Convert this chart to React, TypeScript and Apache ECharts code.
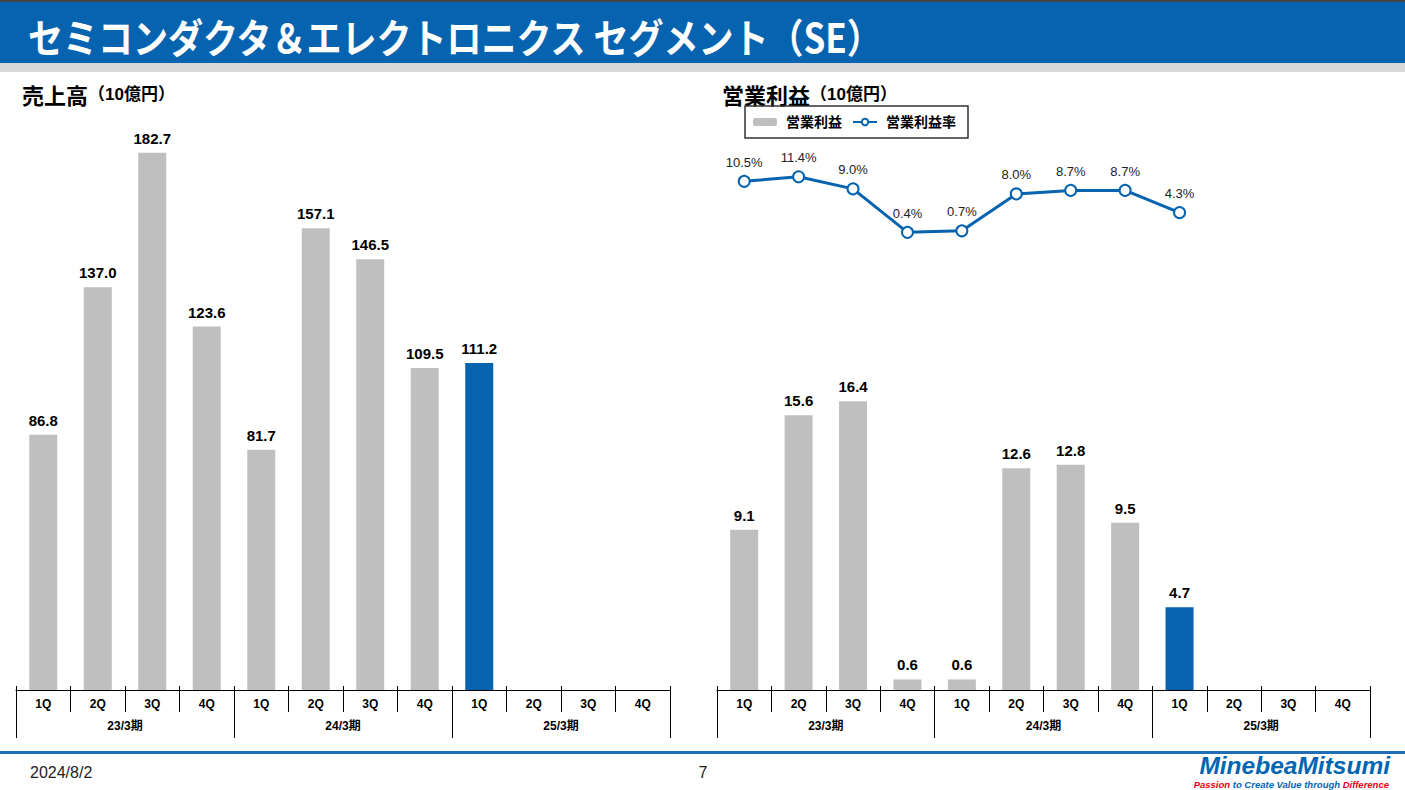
import React, { useEffect, useRef } from "react";
import * as echarts from "echarts";

const quarters = ["1Q", "2Q", "3Q", "4Q", "1Q", "2Q", "3Q", "4Q", "1Q", "2Q", "3Q", "4Q"];
const fiscalYears = ["23/3期", "24/3期", "25/3期"];
const salesValues: (number | null)[] = [86.8, 137.0, 182.7, 123.6, 81.7, 157.1, 146.5, 109.5, 111.2, null, null, null];
const profitValues: (number | null)[] = [9.1, 15.6, 16.4, 0.6, 0.6, 12.6, 12.8, 9.5, 4.7, null, null, null];
const marginValues: (number | null)[] = [10.5, 11.4, 9.0, 0.4, 0.7, 8.0, 8.7, 8.7, 4.3, null, null, null];
const highlightIndex = 8;

const FONT = "'Liberation Sans', Arial, 'Noto Sans CJK JP', sans-serif";
const CJK = "'Noto Sans CJK JP', sans-serif";
const BLUE = "#0563B0";
const GRAY = "#BFBFBF";

function barData(vals: (number | null)[]) {
  return vals.map((v, i) =>
    i === highlightIndex ? { value: v, itemStyle: { color: BLUE } } : v
  );
}

function xAxesFor(gridIndex: number) {
  return [
    {
      type: "category",
      gridIndex,
      data: quarters,
      position: "bottom",
      axisLine: { show: true, onZero: false, lineStyle: { color: "#000", width: 1 } },
      axisTick: { show: true, length: 22, interval: 0, lineStyle: { color: "#000" } },
      axisLabel: { interval: 0, margin: 8, color: "#000", fontWeight: "bold", fontSize: 12, fontFamily: FONT },
      splitLine: { show: false },
    },
    {
      type: "category",
      gridIndex,
      data: quarters,
      position: "bottom",
      axisLine: { show: false, onZero: false },
      axisTick: { show: true, inside: true, length: 4, interval: 0, lineStyle: { color: "#000" } },
      axisLabel: { show: false },
      splitLine: { show: false },
    },
    {
      type: "category",
      gridIndex,
      data: fiscalYears,
      position: "bottom",
      offset: 22,
      axisLine: { show: false, onZero: false },
      axisTick: { show: true, length: 26, interval: 0, lineStyle: { color: "#000" } },
      axisLabel: { interval: 0, margin: 8, color: "#000", fontWeight: "bold", fontSize: 12, fontFamily: FONT },
      splitLine: { show: false },
    },
  ];
}

const hiddenY = (gridIndex: number, min: number, max: number) => ({
  type: "value",
  gridIndex,
  min,
  max,
  show: false,
  splitLine: { show: false },
});

export default function App() {
  const ref = useRef<HTMLDivElement>(null);
  useEffect(() => {
    if (!ref.current) return;
    const chart = echarts.init(ref.current, null, { renderer: "svg" });
    const fmt1 = (p: any) => (p.value == null ? "" : Number(p.value).toFixed(1));
    const subRich = {
      a: { fontSize: 22, fontWeight: "bold", fill: "#000", fontFamily: CJK, verticalAlign: "middle", lineHeight: 26 },
      b: { fontSize: 17, fontWeight: "bold", fill: "#000", fontFamily: FONT, verticalAlign: "middle", lineHeight: 26 },
    };
    const tagStyle = (fill: string) => ({
      fontSize: 9.5,
      fontWeight: "bold",
      fontStyle: "italic",
      fill,
      fontFamily: FONT,
    });
    const option: any = {
      animation: false,
      textStyle: { fontFamily: FONT },
      grid: [
        { left: 16, width: 654, top: 102, height: 588 },
        { left: 717, width: 653, top: 102, height: 588 },
      ],
      xAxis: [...xAxesFor(0), ...xAxesFor(1)],
      yAxis: [hiddenY(0, 0, 200), hiddenY(1, 0, 33.4), hiddenY(1, -90.2, 26.2)],
      legend: {
        left: 745,
        top: 106,
        orient: "horizontal",
        data: ["営業利益", "営業利益率"],
        borderColor: "#333",
        borderWidth: 1.5,
        padding: [9, 12, 9, 8],
        itemWidth: 24,
        itemHeight: 8,
        itemGap: 10,
        selectedMode: false,
        textStyle: { fontSize: 14, fontWeight: "bold", color: "#000", fontFamily: FONT, padding: [0, 0, 0, 4] },
      },
      series: [
        {
          name: "売上高",
          type: "bar",
          xAxisIndex: 0,
          yAxisIndex: 0,
          barWidth: 28,
          itemStyle: { color: GRAY },
          data: barData(salesValues),
          label: {
            show: true,
            position: "top",
            distance: 7,
            formatter: fmt1,
            fontSize: 15,
            fontWeight: "bold",
            color: "#000",
            fontFamily: FONT,
          },
        },
        {
          name: "営業利益",
          type: "bar",
          xAxisIndex: 3,
          yAxisIndex: 1,
          barWidth: 28,
          itemStyle: { color: GRAY },
          data: barData(profitValues),
          label: {
            show: true,
            position: "top",
            distance: 7,
            formatter: fmt1,
            fontSize: 15,
            fontWeight: "bold",
            color: "#000",
            fontFamily: FONT,
          },
        },
        {
          name: "営業利益率",
          type: "line",
          xAxisIndex: 3,
          yAxisIndex: 2,
          data: marginValues,
          symbol: "emptyCircle",
          symbolSize: 11,
          lineStyle: { color: BLUE, width: 3 },
          itemStyle: { color: BLUE, borderColor: BLUE, borderWidth: 2.5 },
          label: {
            show: true,
            position: "top",
            distance: 6,
            formatter: (p: any) => (p.value == null ? "" : Number(p.value).toFixed(1) + "%"),
            fontSize: 13,
            color: "#222",
            fontFamily: FONT,
          },
        },
      ],
      graphic: [
        { type: "rect", shape: { x: 0, y: 0, width: 1405, height: 2 }, style: { fill: "#444" }, z: -1 },
        { type: "rect", shape: { x: 0, y: 2, width: 1405, height: 61 }, style: { fill: BLUE }, z: -1 },
        { type: "rect", shape: { x: 0, y: 63, width: 1405, height: 9 }, style: { fill: "#D9D9D9" }, z: -1 },
        {
          type: "text",
          x: 28,
          y: 35,
          scaleX: 0.875,
          style: {
            text: "セミコンダクタ＆エレクトロニクス セグメント（SE）",
            fill: "#fff",
            fontSize: 40,
            fontWeight: "bold",
            fontFamily: CJK,
            verticalAlign: "middle",
            align: "left",
          },
        },
        {
          type: "text",
          x: 22,
          y: 94,
          style: { text: "{a|売上高}{b|（10億円）}", verticalAlign: "middle", rich: subRich },
        },
        {
          type: "text",
          x: 722,
          y: 94,
          style: { text: "{a|営業利益}{b|（10億円）}", verticalAlign: "middle", rich: subRich },
        },
        { type: "rect", shape: { x: 0, y: 751, width: 1405, height: 3 }, style: { fill: "#1F6FB8" } },
        {
          type: "text",
          x: 30,
          y: 772,
          style: { text: "2024/8/2", fontSize: 16, fill: "#222", fontFamily: FONT, verticalAlign: "middle" },
        },
        {
          type: "text",
          x: 703,
          y: 772,
          style: { text: "7", fontSize: 16, fill: "#222", fontFamily: FONT, align: "center", verticalAlign: "middle" },
        },
        {
          type: "text",
          x: 1390,
          y: 765,
          style: {
            text: "MinebeaMitsumi",
            fontSize: 24.5,
            fontWeight: "bold",
            fontStyle: "italic",
            fill: "#0066B3",
            fontFamily: FONT,
            align: "right",
            verticalAlign: "middle",
          },
        },
        {
          type: "text",
          x: 1389,
          y: 784,
          style: {
            text: "{r|Passion }{b|to Create Value through }{r|Difference}",
            align: "right",
            verticalAlign: "middle",
            rich: {
              r: tagStyle("#E60012"),
              b: tagStyle("#0066B3"),
            },
          },
        },
      ],
    };
    chart.setOption(option);
    return () => chart.dispose();
  }, []);
  return (
    <div
      ref={ref}
      style={{ position: "absolute", left: 0, top: 0, width: 1405, height: 790, background: "#fff" }}
    />
  );
}
